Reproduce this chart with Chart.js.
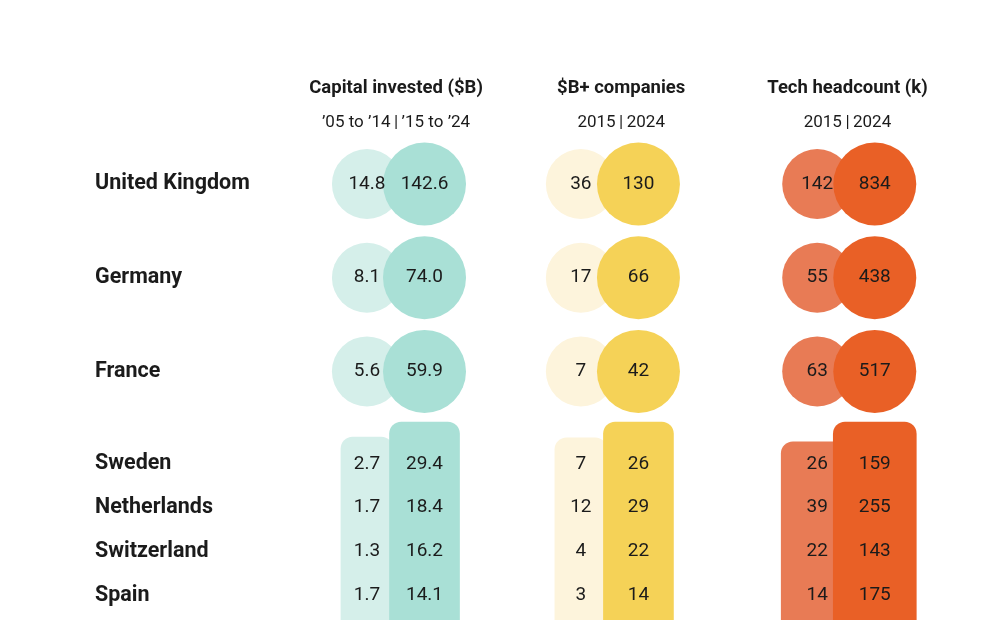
<!DOCTYPE html>
<html>
<head>
<meta charset="utf-8">
<script src="https://cdn.jsdelivr.net/npm/chart.js@4"></script>
<style>
    body { margin: 0; background: #fff; }
    canvas { display: block; }
</style>
</head>
<body>
<canvas id="chart" width="985" height="620"></canvas>
<script>
const COUNTRIES = ['United Kingdom', 'Germany', 'France', 'Sweden', 'Netherlands', 'Switzerland', 'Spain'];
const METRICS = ['Capital invested ($B)', '$B+ companies', 'Tech headcount (k)'];
const PERIODS = ['\u201905 to \u201914\u2009|\u2009\u201915 to \u201924', '2015\u2009|\u20092024', '2015\u2009|\u20092024'];

const CAPITAL_EARLY = [14.8, 8.1, 5.6, 2.7, 1.7, 1.3, 1.7];
const CAPITAL_LATE = [142.6, 74.0, 59.9, 29.4, 18.4, 16.2, 14.1];
const UNICORNS_2015 = [36, 17, 7, 7, 12, 4, 3];
const UNICORNS_2024 = [130, 66, 42, 26, 29, 22, 14];
const HEADCOUNT_2015 = [142, 55, 63, 26, 39, 22, 14];
const HEADCOUNT_2024 = [834, 438, 517, 159, 255, 143, 175];

// first rows are shown as circles, the rest as a table
const CIRCLE_ROWS = 3;

const SERIES = [
    { early: CAPITAL_EARLY, late: CAPITAL_LATE, digits: 1, light: '#d5efea', dark: '#a9e0d6' },
    { early: UNICORNS_2015, late: UNICORNS_2024, digits: 0, light: '#fdf4dc', dark: '#f5d257' },
    { early: HEADCOUNT_2015, late: HEADCOUNT_2024, digits: 0, light: '#e87b55', dark: '#e96026' },
];

// layout (scale units: x 1 = one metric column, y 1 = one table row)
const GROUP_X = [0, 0.955, 2.01];
const HEADER_SHIFT = [0, 0.05, 0.005];
const EARLY_OFF = -0.13;
const LATE_OFF = 0.127;
const LIGHT_TOP = [5.75, 5.77, 5.86];
const DARK_TOP = 5.41;
const LIGHT_WIDTH = [52, 52, 72];
const DARK_WIDTH = [70, 70, 83];

function rowY(i) {
    return i < CIRCLE_ROWS ? i * 2.13 : 6.36 + (i - CIRCLE_ROWS) * 0.995;
}

const datasets = [];
SERIES.forEach((s, m) => {
    const circleRows = COUNTRIES.slice(0, CIRCLE_ROWS).map((_, i) => i);
    datasets.push({
        type: 'scatter',
        data: circleRows.map(i => ({ x: GROUP_X[m] + LATE_OFF, y: rowY(i) })),
        backgroundColor: s.dark,
        pointRadius: 41.5,
        pointBorderWidth: 0,
        order: 0,
    });
    datasets.push({
        type: 'scatter',
        data: circleRows.map(i => ({ x: GROUP_X[m] + EARLY_OFF, y: rowY(i) })),
        backgroundColor: s.light,
        pointRadius: 35,
        pointBorderWidth: 0,
        order: 1,
    });
    datasets.push({
        type: 'bar',
        data: [{ x: GROUP_X[m] + LATE_OFF, y: [DARK_TOP, 12] }],
        backgroundColor: s.dark,
        barThickness: DARK_WIDTH[m],
        borderRadius: 12,
        borderSkipped: false,
        grouped: false,
        order: 0,
    });
    datasets.push({
        type: 'bar',
        data: [{ x: GROUP_X[m] + EARLY_OFF, y: [LIGHT_TOP[m], 12] }],
        backgroundColor: s.light,
        barThickness: LIGHT_WIDTH[m],
        borderRadius: 12,
        borderSkipped: false,
        grouped: false,
        order: 1,
    });
});

const textPlugin = {
    id: 'tableText',
    afterDatasetsDraw(chart) {
        const { ctx, scales: { x, y } } = chart;
        ctx.save();
        ctx.fillStyle = '#1b1b1b';
        ctx.textBaseline = 'middle';

        ctx.textAlign = 'center';
        METRICS.forEach((title, m) => {
            const cx = x.getPixelForValue(GROUP_X[m] + HEADER_SHIFT[m]);
            ctx.font = 'bold 18.5px Roboto';
            ctx.fillText(title, cx, y.getPixelForValue(-2.17));
            ctx.font = '17px Roboto';
            ctx.fillText(PERIODS[m], cx, y.getPixelForValue(-1.4));
        });

        COUNTRIES.forEach((name, i) => {
            const py = y.getPixelForValue(rowY(i));
            ctx.textAlign = 'left';
            ctx.font = 'bold 21.5px Roboto';
            ctx.fillText(name, 95, py);

            ctx.textAlign = 'center';
            ctx.font = '19px Roboto';
            SERIES.forEach((s, m) => {
                ctx.fillText(s.early[i].toFixed(s.digits), x.getPixelForValue(GROUP_X[m] + EARLY_OFF), py);
                ctx.fillText(s.late[i].toFixed(s.digits), x.getPixelForValue(GROUP_X[m] + LATE_OFF), py);
            });
        });
        ctx.restore();
    },
};

new Chart(document.getElementById('chart'), {
    type: 'scatter',
    data: { datasets },
    options: {
        responsive: false,
        animation: false,
        events: [],
        layout: { padding: 0, autoPadding: false },
        plugins: { legend: { display: false }, tooltip: { enabled: false } },
        scales: {
            x: { type: 'linear', display: false, min: -1.768, max: 2.629, bounds: 'data', offset: false },
            y: { type: 'linear', display: false, reverse: true, min: -4.182, max: 9.909, bounds: 'data' },
        },
    },
    plugins: [textPlugin],
});
</script>
</body>
</html>
